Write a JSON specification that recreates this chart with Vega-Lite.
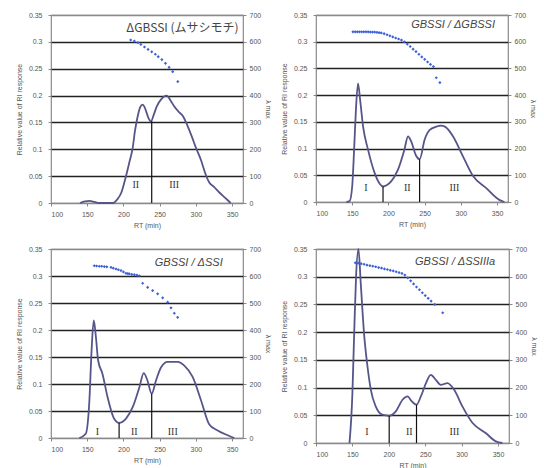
{
  "$schema": "https://vega.github.io/schema/vega-lite/v6.json",
  "background": "white",
  "padding": {"left": 14, "top": 10, "right": 0, "bottom": 0},
  "datasets": {
    "curve": [
      {"p":1,"rt":140,"v":0},{"p":1,"rt":147,"v":0.003},{"p":1,"rt":153,"v":0.004},{"p":1,"rt":160,"v":0.002},{"p":1,"rt":166,"v":0},{"p":1,"rt":186,"v":0},{"p":1,"rt":191,"v":0.006},{"p":1,"rt":197,"v":0.019},{"p":1,"rt":203.5,"v":0.05},{"p":1,"rt":208,"v":0.075},{"p":1,"rt":212.7,"v":0.102},{"p":1,"rt":216,"v":0.135},{"p":1,"rt":219.6,"v":0.161},{"p":1,"rt":223,"v":0.178},{"p":1,"rt":226.5,"v":0.183},{"p":1,"rt":229,"v":0.179},{"p":1,"rt":231,"v":0.172},{"p":1,"rt":234,"v":0.16},{"p":1,"rt":238,"v":0.152},{"p":1,"rt":242,"v":0.165},{"p":1,"rt":246,"v":0.18},{"p":1,"rt":252,"v":0.193},{"p":1,"rt":259.6,"v":0.2},{"p":1,"rt":265,"v":0.191},{"p":1,"rt":270,"v":0.18},{"p":1,"rt":276,"v":0.17},{"p":1,"rt":282,"v":0.162},{"p":1,"rt":288,"v":0.145},{"p":1,"rt":294,"v":0.125},{"p":1,"rt":300,"v":0.103},{"p":1,"rt":307,"v":0.08},{"p":1,"rt":313,"v":0.055},{"p":1,"rt":318.5,"v":0.038},{"p":1,"rt":325,"v":0.03},{"p":1,"rt":332,"v":0.02},{"p":1,"rt":340,"v":0.01},{"p":1,"rt":348,"v":0},
      {"p":2,"rt":142,"v":0},{"p":2,"rt":146.5,"v":0.002},{"p":2,"rt":150,"v":0.03},{"p":2,"rt":153,"v":0.11},{"p":2,"rt":155,"v":0.17},{"p":2,"rt":158,"v":0.222},{"p":2,"rt":161,"v":0.19},{"p":2,"rt":165,"v":0.141},{"p":2,"rt":171.8,"v":0.098},{"p":2,"rt":181,"v":0.054},{"p":2,"rt":187,"v":0.036},{"p":2,"rt":192.5,"v":0.029},{"p":2,"rt":198,"v":0.032},{"p":2,"rt":204,"v":0.039},{"p":2,"rt":213,"v":0.06},{"p":2,"rt":222,"v":0.098},{"p":2,"rt":227,"v":0.123},{"p":2,"rt":231.5,"v":0.113},{"p":2,"rt":238,"v":0.087},{"p":2,"rt":243,"v":0.08},{"p":2,"rt":250,"v":0.117},{"p":2,"rt":257,"v":0.135},{"p":2,"rt":266,"v":0.141},{"p":2,"rt":272,"v":0.143},{"p":2,"rt":278,"v":0.141},{"p":2,"rt":289,"v":0.123},{"p":2,"rt":303,"v":0.085},{"p":2,"rt":317,"v":0.048},{"p":2,"rt":335,"v":0.026},{"p":2,"rt":353,"v":0.004},{"p":2,"rt":360,"v":0},
      {"p":3,"rt":139,"v":0},{"p":3,"rt":148,"v":0.008},{"p":3,"rt":153,"v":0.07},{"p":3,"rt":156,"v":0.162},{"p":3,"rt":159,"v":0.218},{"p":3,"rt":162,"v":0.187},{"p":3,"rt":165,"v":0.144},{"p":3,"rt":171,"v":0.119},{"p":3,"rt":178,"v":0.076},{"p":3,"rt":187,"v":0.036},{"p":3,"rt":194,"v":0.028},{"p":3,"rt":203.5,"v":0.036},{"p":3,"rt":212.7,"v":0.057},{"p":3,"rt":222,"v":0.094},{"p":3,"rt":228,"v":0.12},{"p":3,"rt":233,"v":0.107},{"p":3,"rt":239,"v":0.082},{"p":3,"rt":245,"v":0.107},{"p":3,"rt":252,"v":0.131},{"p":3,"rt":261,"v":0.141},{"p":3,"rt":275,"v":0.141},{"p":3,"rt":284,"v":0.134},{"p":3,"rt":295.5,"v":0.113},{"p":3,"rt":307,"v":0.07},{"p":3,"rt":318.5,"v":0.025},{"p":3,"rt":330,"v":0.014},{"p":3,"rt":344,"v":0.005},{"p":3,"rt":353,"v":0},
      {"p":4,"rt":146,"v":0},{"p":4,"rt":150,"v":0.09},{"p":4,"rt":152.4,"v":0.197},{"p":4,"rt":155,"v":0.3},{"p":4,"rt":158.3,"v":0.35},{"p":4,"rt":161.5,"v":0.287},{"p":4,"rt":166,"v":0.197},{"p":4,"rt":170.7,"v":0.138},{"p":4,"rt":175.3,"v":0.096},{"p":4,"rt":182,"v":0.066},{"p":4,"rt":191,"v":0.051},{"p":4,"rt":200.5,"v":0.049},{"p":4,"rt":209.6,"v":0.057},{"p":4,"rt":218.8,"v":0.078},{"p":4,"rt":225.6,"v":0.084},{"p":4,"rt":231.6,"v":0.075},{"p":4,"rt":238,"v":0.069},{"p":4,"rt":244,"v":0.084},{"p":4,"rt":251,"v":0.108},{"p":4,"rt":257.6,"v":0.123},{"p":4,"rt":264.5,"v":0.114},{"p":4,"rt":271.4,"v":0.105},{"p":4,"rt":280.5,"v":0.108},{"p":4,"rt":289.7,"v":0.096},{"p":4,"rt":301,"v":0.066},{"p":4,"rt":315,"v":0.036},{"p":4,"rt":333,"v":0.018},{"p":4,"rt":347,"v":0.003},{"p":4,"rt":356,"v":0}
    ],
    "cut": [
      {"p":1,"rt":239,"v":0.152},
      {"p":2,"rt":192.5,"v":0.029},{"p":2,"rt":243,"v":0.08},
      {"p":3,"rt":194,"v":0.028},{"p":3,"rt":239,"v":0.082},
      {"p":4,"rt":200.5,"v":0.049},{"p":4,"rt":238,"v":0.069}
    ],
    "frac": [
      {"p":1,"rt":217,"label":"II"},{"p":1,"rt":270,"label":"III"},
      {"p":2,"rt":169,"label":"I"},{"p":2,"rt":226,"label":"II"},{"p":2,"rt":291,"label":"III"},
      {"p":3,"rt":164,"label":"I"},{"p":3,"rt":215,"label":"II"},{"p":3,"rt":268,"label":"III"},
      {"p":4,"rt":170,"label":"I"},{"p":4,"rt":228,"label":"II"},{"p":4,"rt":290,"label":"III"}
    ],
    "lam": [
      {"p":1,"rt":210,"lm":607},{"p":1,"rt":215,"lm":603},{"p":1,"rt":220,"lm":597},{"p":1,"rt":224,"lm":590},{"p":1,"rt":229,"lm":581},{"p":1,"rt":234,"lm":572},{"p":1,"rt":239,"lm":563},{"p":1,"rt":244,"lm":554},{"p":1,"rt":248,"lm":545},{"p":1,"rt":253,"lm":534},{"p":1,"rt":258,"lm":520},{"p":1,"rt":263,"lm":505},{"p":1,"rt":268,"lm":489},{"p":1,"rt":275,"lm":452},
      {"p":2,"rt":151,"lm":637},{"p":2,"rt":154,"lm":637},{"p":2,"rt":157,"lm":637},{"p":2,"rt":160,"lm":637},{"p":2,"rt":163,"lm":637},{"p":2,"rt":166,"lm":637},{"p":2,"rt":169,"lm":637},{"p":2,"rt":172,"lm":637},{"p":2,"rt":175,"lm":636},{"p":2,"rt":178,"lm":636},{"p":2,"rt":181,"lm":636},{"p":2,"rt":184,"lm":635},{"p":2,"rt":187,"lm":634},{"p":2,"rt":190,"lm":633},{"p":2,"rt":194,"lm":630},{"p":2,"rt":198,"lm":626},{"p":2,"rt":202,"lm":622},{"p":2,"rt":206,"lm":618},{"p":2,"rt":210,"lm":614},{"p":2,"rt":214,"lm":610},{"p":2,"rt":218,"lm":606},{"p":2,"rt":222,"lm":600},{"p":2,"rt":226,"lm":591},{"p":2,"rt":230,"lm":582},{"p":2,"rt":234,"lm":572},{"p":2,"rt":238,"lm":563},{"p":2,"rt":242,"lm":553},{"p":2,"rt":246,"lm":543},{"p":2,"rt":250,"lm":534},{"p":2,"rt":254,"lm":524},{"p":2,"rt":258,"lm":515},{"p":2,"rt":262,"lm":507},{"p":2,"rt":266,"lm":465},{"p":2,"rt":271,"lm":447},
      {"p":3,"rt":159.8,"lm":638},{"p":3,"rt":163,"lm":637},{"p":3,"rt":166.7,"lm":636},{"p":3,"rt":170,"lm":636},{"p":3,"rt":173.6,"lm":635},{"p":3,"rt":177,"lm":634},{"p":3,"rt":182.8,"lm":632},{"p":3,"rt":186,"lm":629},{"p":3,"rt":189.7,"lm":626},{"p":3,"rt":193,"lm":623},{"p":3,"rt":196.6,"lm":620},{"p":3,"rt":200,"lm":615},{"p":3,"rt":203.5,"lm":610},{"p":3,"rt":206,"lm":609},{"p":3,"rt":208,"lm":608},{"p":3,"rt":211.5,"lm":606},{"p":3,"rt":215,"lm":605},{"p":3,"rt":218.5,"lm":603},{"p":3,"rt":221.9,"lm":601},{"p":3,"rt":226.5,"lm":573},{"p":3,"rt":233.4,"lm":558},{"p":3,"rt":240.3,"lm":546},{"p":3,"rt":247.2,"lm":534},{"p":3,"rt":254.1,"lm":519},{"p":3,"rt":261,"lm":503},{"p":3,"rt":265.6,"lm":482},{"p":3,"rt":270.2,"lm":462},{"p":3,"rt":274.8,"lm":447},
      {"p":4,"rt":154,"lm":650},{"p":4,"rt":158,"lm":649},{"p":4,"rt":162,"lm":647},{"p":4,"rt":166,"lm":645},{"p":4,"rt":170,"lm":642},{"p":4,"rt":174,"lm":640},{"p":4,"rt":178,"lm":638},{"p":4,"rt":182,"lm":636},{"p":4,"rt":186,"lm":633},{"p":4,"rt":190,"lm":631},{"p":4,"rt":194,"lm":628},{"p":4,"rt":198,"lm":626},{"p":4,"rt":202,"lm":623},{"p":4,"rt":206,"lm":621},{"p":4,"rt":210,"lm":618},{"p":4,"rt":214,"lm":615},{"p":4,"rt":218,"lm":612},{"p":4,"rt":222,"lm":606},{"p":4,"rt":226,"lm":596},{"p":4,"rt":230,"lm":585},{"p":4,"rt":234,"lm":574},{"p":4,"rt":238,"lm":563},{"p":4,"rt":242,"lm":553},{"p":4,"rt":246,"lm":542},{"p":4,"rt":250,"lm":532},{"p":4,"rt":254,"lm":522},{"p":4,"rt":258,"lm":512},{"p":4,"rt":263,"lm":500},{"p":4,"rt":274,"lm":470}
    ]
  },
  "bounds": "flush",
  "columns": 2,
  "spacing": {"row": 46, "column": 73},
  "concat": [
        {
          "width": 192, "height": 188,
          "layer": [
            {"layer": [
              {"data": {"name": "curve"}, "transform": [{"filter": "datum.p == 1"}],
               "mark": {"type": "line", "color": "#55558a", "strokeWidth": 1.8, "interpolate": "monotone"},
               "encoding": {
                 "x": {"field": "rt", "type": "quantitative", "scale": {"domain": [100, 365], "nice": false, "zero": false}, "axis": {"values": [100,150,200,250,300,350], "title": "RT (min)"}},
                 "y": {"field": "v", "type": "quantitative", "scale": {"domain": [0, 0.35], "nice": false}, "axis": {"values": [0,0.05,0.1,0.15,0.2,0.25,0.3,0.35], "format": "~g", "title": "Relative value of RI response", "grid": true, "gridWidth": 1.4, "gridColor": {"condition": {"test": "datum.value <= 0.001 || datum.value >= 0.349", "value": "#8a8a8a"}, "value": "#222"}}}
               }},
              {"data": {"name": "cut"}, "transform": [{"filter": "datum.p == 1"}],
               "mark": {"type": "rule", "color": "#111", "strokeWidth": 1.2},
               "encoding": {"x": {"field": "rt", "type": "quantitative"}, "y": {"field": "v", "type": "quantitative"}, "y2": {"datum": 0}}},
              {"data": {"name": "frac"}, "transform": [{"filter": "datum.p == 1"}],
               "mark": {"type": "text", "font": "Liberation Serif", "fontSize": 10, "color": "#333"},
               "encoding": {"x": {"field": "rt", "type": "quantitative"}, "y": {"datum": 0.034, "type": "quantitative"}, "text": {"field": "label"}}},
              {"data": {"values": [{}]},
               "mark": {"type": "text", "align": "right", "fontSize": 12, "font": "Noto Sans CJK JP", "color": "#444"},
               "encoding": {"x": {"datum": 359, "type": "quantitative"}, "y": {"datum": 0.325, "type": "quantitative"}, "text": {"value": "ΔGBSSI (ムサシモチ)"}}}
            ]},
            {"data": {"name": "lam"}, "transform": [{"filter": "datum.p == 1"}],
             "mark": {"type": "point", "shape": "diamond", "filled": true, "size": 10, "color": "#3d5fd9", "opacity": 1},
             "encoding": {"x": {"field": "rt", "type": "quantitative"}, "y": {"field": "lm", "type": "quantitative", "scale": {"domain": [0, 700], "nice": false}, "axis": {"orient": "right", "values": [0,100,200,300,400,500,600,700], "title": "λ max", "grid": false}}}}
          ],
          "resolve": {"scale": {"y": "independent"}}
        },
        {
          "width": 192, "height": 187,
          "layer": [
            {"layer": [
              {"data": {"name": "curve"}, "transform": [{"filter": "datum.p == 2"}],
               "mark": {"type": "line", "color": "#55558a", "strokeWidth": 1.8, "interpolate": "monotone"},
               "encoding": {
                 "x": {"field": "rt", "type": "quantitative", "scale": {"domain": [100, 365], "nice": false, "zero": false}, "axis": {"values": [100,150,200,250,300,350], "title": "RT (min)"}},
                 "y": {"field": "v", "type": "quantitative", "scale": {"domain": [0, 0.35], "nice": false}, "axis": {"values": [0,0.05,0.1,0.15,0.2,0.25,0.3,0.35], "format": "~g", "title": "Relative value of RI response", "grid": true, "gridWidth": 1.4, "gridColor": {"condition": {"test": "datum.value <= 0.001 || datum.value >= 0.349", "value": "#8a8a8a"}, "value": "#222"}}}
               }},
              {"data": {"name": "cut"}, "transform": [{"filter": "datum.p == 2"}],
               "mark": {"type": "rule", "color": "#111", "strokeWidth": 1.2},
               "encoding": {"x": {"field": "rt", "type": "quantitative"}, "y": {"field": "v", "type": "quantitative"}, "y2": {"datum": 0}}},
              {"data": {"name": "frac"}, "transform": [{"filter": "datum.p == 2"}],
               "mark": {"type": "text", "font": "Liberation Serif", "fontSize": 10, "color": "#333"},
               "encoding": {"x": {"field": "rt", "type": "quantitative"}, "y": {"datum": 0.026, "type": "quantitative"}, "text": {"field": "label"}}},
              {"data": {"values": [{}]},
               "mark": {"type": "text", "align": "right", "fontSize": 11, "font": "Liberation Sans", "fontStyle": "italic", "color": "#444"},
               "encoding": {"x": {"datum": 347, "type": "quantitative"}, "y": {"datum": 0.331, "type": "quantitative"}, "text": {"value": "GBSSI / ΔGBSSI"}}}
            ]},
            {"data": {"name": "lam"}, "transform": [{"filter": "datum.p == 2"}],
             "mark": {"type": "point", "shape": "diamond", "filled": true, "size": 10, "color": "#3d5fd9", "opacity": 1},
             "encoding": {"x": {"field": "rt", "type": "quantitative"}, "y": {"field": "lm", "type": "quantitative", "scale": {"domain": [0, 700], "nice": false}, "axis": {"orient": "right", "values": [0,100,200,300,400,500,600,700], "title": "λ max", "grid": false}}}}
          ],
          "resolve": {"scale": {"y": "independent"}}
        },
        {
          "width": 192, "height": 189,
          "layer": [
            {"layer": [
              {"data": {"name": "curve"}, "transform": [{"filter": "datum.p == 3"}],
               "mark": {"type": "line", "color": "#55558a", "strokeWidth": 1.8, "interpolate": "monotone"},
               "encoding": {
                 "x": {"field": "rt", "type": "quantitative", "scale": {"domain": [100, 365], "nice": false, "zero": false}, "axis": {"values": [100,150,200,250,300,350], "title": "RT (min)"}},
                 "y": {"field": "v", "type": "quantitative", "scale": {"domain": [0, 0.35], "nice": false}, "axis": {"values": [0,0.05,0.1,0.15,0.2,0.25,0.3,0.35], "format": "~g", "title": "Relative value of RI response", "grid": true, "gridWidth": 1.4, "gridColor": {"condition": {"test": "datum.value <= 0.001 || datum.value >= 0.349", "value": "#8a8a8a"}, "value": "#222"}}}
               }},
              {"data": {"name": "cut"}, "transform": [{"filter": "datum.p == 3"}],
               "mark": {"type": "rule", "color": "#111", "strokeWidth": 1.2},
               "encoding": {"x": {"field": "rt", "type": "quantitative"}, "y": {"field": "v", "type": "quantitative"}, "y2": {"datum": 0}}},
              {"data": {"name": "frac"}, "transform": [{"filter": "datum.p == 3"}],
               "mark": {"type": "text", "font": "Liberation Serif", "fontSize": 10, "color": "#333"},
               "encoding": {"x": {"field": "rt", "type": "quantitative"}, "y": {"datum": 0.012, "type": "quantitative"}, "text": {"field": "label"}}},
              {"data": {"values": [{}]},
               "mark": {"type": "text", "align": "right", "fontSize": 11, "font": "Liberation Sans", "fontStyle": "italic", "color": "#444"},
               "encoding": {"x": {"datum": 337, "type": "quantitative"}, "y": {"datum": 0.324, "type": "quantitative"}, "text": {"value": "GBSSI / ΔSSI"}}}
            ]},
            {"data": {"name": "lam"}, "transform": [{"filter": "datum.p == 3"}],
             "mark": {"type": "point", "shape": "diamond", "filled": true, "size": 10, "color": "#3d5fd9", "opacity": 1},
             "encoding": {"x": {"field": "rt", "type": "quantitative"}, "y": {"field": "lm", "type": "quantitative", "scale": {"domain": [0, 700], "nice": false}, "axis": {"orient": "right", "values": [0,100,200,300,400,500,600,700], "title": "λ max", "grid": false}}}}
          ],
          "resolve": {"scale": {"y": "independent"}}
        },
        {
          "width": 193, "height": 194,
          "layer": [
            {"layer": [
              {"data": {"name": "curve"}, "transform": [{"filter": "datum.p == 4"}],
               "mark": {"type": "line", "color": "#55558a", "strokeWidth": 1.8, "interpolate": "monotone"},
               "encoding": {
                 "x": {"field": "rt", "type": "quantitative", "scale": {"domain": [100, 365], "nice": false, "zero": false}, "axis": {"values": [100,150,200,250,300,350], "title": "RT (min)"}},
                 "y": {"field": "v", "type": "quantitative", "scale": {"domain": [0, 0.35], "nice": false}, "axis": {"values": [0,0.05,0.1,0.15,0.2,0.25,0.3,0.35], "format": "~g", "title": "Relative value of RI response", "grid": true, "gridWidth": 1.4, "gridColor": {"condition": {"test": "datum.value <= 0.001 || datum.value >= 0.349", "value": "#8a8a8a"}, "value": "#222"}}}
               }},
              {"data": {"name": "cut"}, "transform": [{"filter": "datum.p == 4"}],
               "mark": {"type": "rule", "color": "#111", "strokeWidth": 1.2},
               "encoding": {"x": {"field": "rt", "type": "quantitative"}, "y": {"field": "v", "type": "quantitative"}, "y2": {"datum": 0}}},
              {"data": {"name": "frac"}, "transform": [{"filter": "datum.p == 4"}],
               "mark": {"type": "text", "font": "Liberation Serif", "fontSize": 10, "color": "#333"},
               "encoding": {"x": {"field": "rt", "type": "quantitative"}, "y": {"datum": 0.02, "type": "quantitative"}, "text": {"field": "label"}}},
              {"data": {"values": [{}]},
               "mark": {"type": "text", "align": "right", "fontSize": 11, "font": "Liberation Sans", "fontStyle": "italic", "color": "#444"},
               "encoding": {"x": {"datum": 346, "type": "quantitative"}, "y": {"datum": 0.327, "type": "quantitative"}, "text": {"value": "GBSSI / ΔSSIIIa"}}}
            ]},
            {"data": {"name": "lam"}, "transform": [{"filter": "datum.p == 4"}],
             "mark": {"type": "point", "shape": "diamond", "filled": true, "size": 10, "color": "#3d5fd9", "opacity": 1},
             "encoding": {"x": {"field": "rt", "type": "quantitative"}, "y": {"field": "lm", "type": "quantitative", "scale": {"domain": [0, 700], "nice": false}, "axis": {"orient": "right", "values": [0,100,200,300,400,500,600,700], "title": "λ max", "grid": false}}}}
          ],
          "resolve": {"scale": {"y": "independent"}}
        }
  ],
  "config": {
    "view": {"stroke": "#8a8a8a", "strokeWidth": 1.2},
    "axis": {"labelFont": "Liberation Sans", "labelFontSize": 7, "labelColor": "#555", "titleFont": "Liberation Sans", "titleFontSize": 7, "titleColor": "#555", "titleFontWeight": "normal", "domain": false, "tickColor": "#888", "tickSize": 3, "labelPadding": 2, "grid": false, "gridColor": "#222", "labelOverlap": false},
    "axisX": {"tickCount": 20, "labelPadding": 4, "titlePadding": 4},
    "axisY": {"tickCount": 20},
    "axisLeft": {"labelPadding": 6, "titlePadding": 6},
    "axisRight": {"labelPadding": 3, "titlePadding": 4}
  }
}
